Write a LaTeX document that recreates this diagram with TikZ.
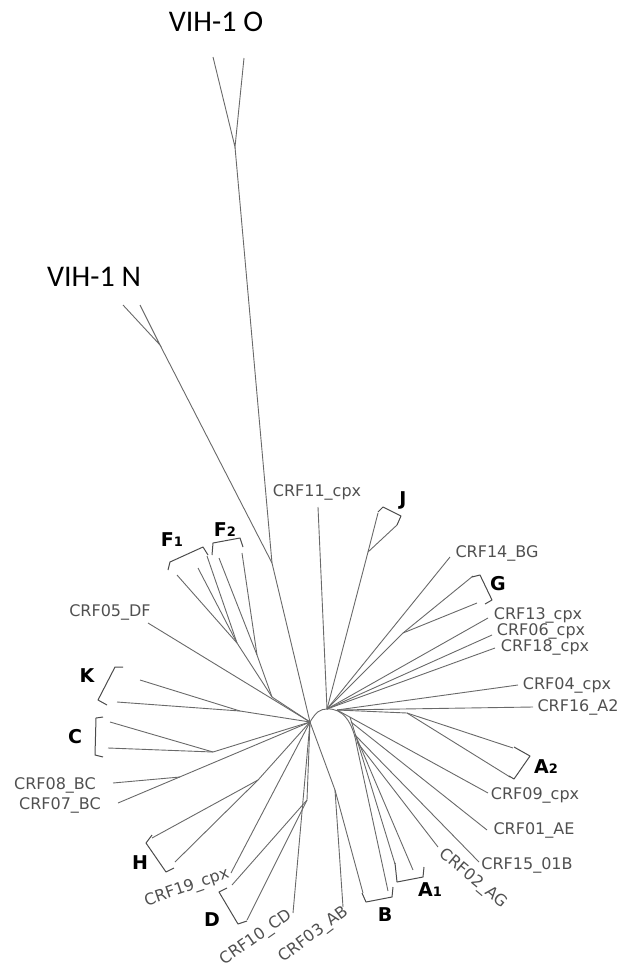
\documentclass[tikz,border=0pt]{standalone}
\usepackage{fontspec}
\setmainfont{DejaVu Sans}
\newfontfamily\carlito{Carlito}
\usepackage{xcolor}
\definecolor{TreeGray}{RGB}{105,105,105}
\definecolor{TipGray}{RGB}{80,80,80}
\usetikzlibrary{positioning}
\newcommand{\cnum}[1]{{\fontsize{13}{13}\selectfont #1}}

\begin{document}
\begin{tikzpicture}[x=1pt, y=-1pt]
\tikzstyle{brn}=[draw=TreeGray, line width=0.9pt]
\tikzstyle{brk}=[draw=black!70, line width=1pt, line join=round]
\tikzstyle{tip}=[text=TipGray, font=\fontsize{16}{16}\selectfont, inner sep=0pt]
\tikzstyle{clade}=[font=\fontsize{19}{19}\selectfont\bfseries, inner sep=0pt]
\tikzstyle{hiv}=[font=\carlito\fontsize{30}{30}\selectfont, inner sep=0pt]

\useasboundingbox (0,0) rectangle (625,969);

% internal nodes
\coordinate (oJ) at (235,147);
\coordinate (nJ) at (160,345);
\coordinate (on) at (272,563);
\coordinate (cL) at (310,722);
\coordinate (cR) at (327,709);
\coordinate (arcE) at (357,747);
\coordinate (aR) at (337,710);
\coordinate (a1x) at (350,717);
\coordinate (a01) at (351,722);
\coordinate (a1y) at (355,734);
\coordinate (a15) at (355,735);
\coordinate (a02) at (357,742);
\coordinate (jN) at (368,552);
\coordinate (gN) at (403,633);
\coordinate (a2N) at (407,713);
\coordinate (bN) at (335,790);
\coordinate (dN) at (307,800);
\coordinate (hN) at (258,780);
\coordinate (j78) at (180,777);
\coordinate (cN) at (213,752);
\coordinate (kN) at (240,711);
\coordinate (fN) at (272,697);
\coordinate (f1N) at (237,643);
\coordinate (f2N) at (257,655);

% tips
\coordinate (oL) at (213,57);
\coordinate (oR) at (244,58);
\coordinate (nL) at (123,305);
\coordinate (nR) at (140,305);
\coordinate (t11) at (318,507);
\coordinate (j1) at (378,513);
\coordinate (j2) at (397,525);
\coordinate (t14) at (450,557);
\coordinate (g1) at (473,576);
\coordinate (g2) at (477,603);
\coordinate (t13) at (488,618);
\coordinate (t06) at (492,635);
\coordinate (t18) at (495,648);
\coordinate (t04) at (518,685);
\coordinate (t16) at (533,707);
\coordinate (a21) at (513,748);
\coordinate (a22) at (510,777);
\coordinate (t09) at (488,793);
\coordinate (t01) at (487,830);
\coordinate (t15) at (479,862);
\coordinate (t02) at (438,847);
\coordinate (a11) at (395,864);
\coordinate (a12) at (413,870);
\coordinate (b1) at (363,893);
\coordinate (b2) at (388,891);
\coordinate (t03) at (343,907);
\coordinate (t10) at (293,913);
\coordinate (d1) at (232,885);
\coordinate (d2) at (247,920);
\coordinate (t19) at (231,873);
\coordinate (h1) at (152,838);
\coordinate (h2) at (175,862);
\coordinate (t07) at (118,803);
\coordinate (t08) at (113,783);
\coordinate (c1) at (110,722);
\coordinate (c2) at (108,748);
\coordinate (k1) at (140,680);
\coordinate (k2) at (117,702);
\coordinate (t05) at (148,623);
\coordinate (f11) at (177,575);
\coordinate (f12) at (198,568);
\coordinate (f13) at (207,556);
\coordinate (f21) at (219,558);
\coordinate (f22) at (242,553);

% branches
\draw[brn] (oL) -- (oJ) -- (oR);
\draw[brn] (oJ) -- (on);
\draw[brn] (nL) -- (nJ) -- (nR);
\draw[brn] (nJ) -- (on) -- (cL);
\draw[brn] (cL) .. controls (316,712) and (320,709) .. (cR) .. controls (343,708) and (353,722) .. (arcE) -- (b2);

\draw[brn] (cR) -- (t11);
\draw[brn] (cR) -- (jN) -- (j1);
\draw[brn] (jN) -- (j2);
\draw[brn] (cR) -- (t14);
\draw[brn] (cR) -- (gN) -- (g1);
\draw[brn] (gN) -- (g2);
\draw[brn] (cR) -- (t13);
\draw[brn] (cR) -- (t06);
\draw[brn] (cR) -- (t18);
\draw[brn] (aR) -- (t04);
\draw[brn] (aR) -- (t16);
\draw[brn] (aR) -- (a2N) -- (a21);
\draw[brn] (a2N) -- (a22);
\draw[brn] (aR) -- (t09);
\draw[brn] (a01) -- (t01);
\draw[brn] (a15) -- (t15);
\draw[brn] (a02) -- (t02);
\draw[brn] (a1x) -- (a11);
\draw[brn] (a1y) -- (a12);

\draw[brn] (cL) -- (bN) -- (b1);
\draw[brn] (bN) -- (t03);
\draw[brn] (cL) -- (t10);
\draw[brn] (cL) -- (dN) -- (d1);
\draw[brn] (dN) -- (d2);
\draw[brn] (cL) -- (t19);
\draw[brn] (cL) -- (hN) -- (h1);
\draw[brn] (hN) -- (h2);
\draw[brn] (cL) -- (t07);
\draw[brn] (j78) -- (t08);
\draw[brn] (cL) -- (cN) -- (c1);
\draw[brn] (cN) -- (c2);
\draw[brn] (cL) -- (kN) -- (k1);
\draw[brn] (kN) -- (k2);
\draw[brn] (cL) -- (t05);
\draw[brn] (cL) -- (fN) -- (f1N) -- (f11);
\draw[brn] (f1N) -- (f12);
\draw[brn] (f1N) -- (f13);
\draw[brn] (fN) -- (f2N) -- (f21);
\draw[brn] (f2N) -- (f22);

% brackets
\draw[brk] (168,570) -- (170,562) -- (203,547) -- (208,555);
\draw[brk] (212,555) -- (213,543) -- (240,538) -- (243,547);
\draw[brk] (123,667) -- (115,667) -- (98,700) -- (107,705);
\draw[brk] (103,717) -- (96,718) -- (95,755) -- (103,757);
\draw[brk] (152,835) -- (146,843) -- (166,872) -- (174,868);
\draw[brk] (227,888) -- (219,892) -- (238,924) -- (247,921);
\draw[brk] (362,893) -- (366,902) -- (392,897) -- (393,887);
\draw[brk] (395,863) -- (397,882) -- (423,877) -- (424,867);
\draw[brk] (514,747) -- (530,756) -- (514,779) -- (509,776);
\draw[brk] (472,577) -- (480,575) -- (492,600) -- (485,604);
\draw[brk] (378,512) -- (383,507) -- (401,516) -- (397,525);

% labels
\node[hiv] (lO) at (216,22) {VIH-1 O};
\node[hiv] (lN) at (94,277) {VIH-1 N};

\node[tip] (l11) at (317,492) {CRF11\_cpx};
\node[tip] (l14) at (497,553) {CRF14\_BG};
\node[tip] (l13) at (538,615) {CRF13\_cpx};
\node[tip] (l06) at (541,631) {CRF06\_cpx};
\node[tip] (l18) at (545,647) {CRF18\_cpx};
\node[tip] (l04) at (567,685) {CRF04\_cpx};
\node[tip] (l16) at (578,707) {CRF16\_A2};
\node[tip] (l09) at (535,795) {CRF09\_cpx};
\node[tip] (l01) at (534,830) {CRF01\_AE};
\node[tip] (l15) at (527,865) {CRF15\_01B};
\node[tip, rotate=-40] (l02) at (473,879) {CRF02\_AG};
\node[tip, rotate=37] (l03) at (314,935) {CRF03\_AB};
\node[tip, rotate=35] (l10) at (256,938) {CRF10\_CD};
\node[tip, rotate=19] (l19) at (187,888) {CRF19\_cpx};
\node[tip] (l08) at (55,785) {CRF08\_BC};
\node[tip] (l07) at (60,805) {CRF07\_BC};
\node[tip] (l05) at (110,612) {CRF05\_DF};

\node[clade] (lF1) at (172,540) {F\cnum{1}};
\node[clade] (lF2) at (225,530) {F\cnum{2}};
\node[clade] (lK) at (87,676) {K};
\node[clade] (lC) at (75,737) {C};
\node[clade] (lH) at (140,863) {H};
\node[clade] (lD) at (212,920) {D};
\node[clade] (lB) at (385,915) {B};
\node[clade] (lA1) at (430,890) {A\cnum{1}};
\node[clade] (lA2) at (546,767) {A\cnum{2}};
\node[clade] (lG) at (498,584) {G};
\node[clade] (lJ) at (403,500) {J};
\end{tikzpicture}
\end{document}
